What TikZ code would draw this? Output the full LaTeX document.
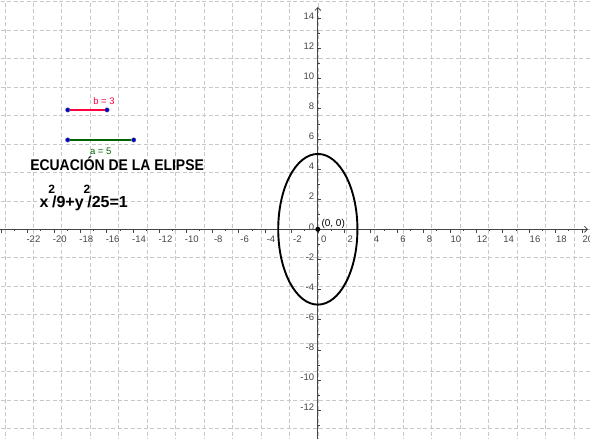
\documentclass[tikz,border=0pt]{standalone}
\usepackage{fontspec}
\setmainfont{Liberation Sans}
\newfontfamily\titlefont[FakeStretch=0.9]{Liberation Sans}
\usetikzlibrary{arrows.meta}
\definecolor{gridgray}{RGB}{200,200,200}
\definecolor{axisgray}{RGB}{70,70,70}
\definecolor{segred}{RGB}{255,0,64}
\definecolor{seggreen}{RGB}{0,100,0}
\definecolor{ptblue}{RGB}{0,0,210}
\newcommand\sqr{\raisebox{13.6pt}{\fontsize{12}{12}\selectfont 2}\kern-3pt}

\begin{document}
\begin{tikzpicture}[x=13.2pt, y=15.07pt,
  gridline/.style={gridgray, line width=0.6pt, dash pattern=on 4pt off 2.5pt},
  axis/.style={axisgray, line width=0.8pt, -{Straight Barb[length=3pt, width=6pt]}},
  tick/.style={axisgray, line width=0.6pt},
  num/.style={font=\fontsize{9.5}{9.5}\selectfont, text=axisgray, inner sep=0pt},
  seg/.style={line width=1.6pt},
  dot/.style={circle, fill=ptblue, draw=black!60, line width=0.3pt,
    inner sep=0pt, minimum size=4.5pt},
  eq/.style={font=\bfseries\fontsize{16}{16}\selectfont, inner sep=0pt}]
\useasboundingbox (-24.08,-13.915) rectangle (20.62,15.216);
\clip (-24.08,-13.915) rectangle (20.62,15.216);
\fill[white] (-24.08,-13.915) rectangle (20.62,15.216);
% grid and axes
\draw[gridline] (-25,-15) grid (21,16);
\draw[axis] (-24.08,0) -- (20.47,0);
\draw[axis] (0,-13.915) -- (0,14.75);
\foreach \i in {-24,-22,...,20} \draw[tick] (\i,0) -- ++(0,-3.5pt);
\foreach \i in {-23,-21,...,19} \draw[tick] (\i,0) -- ++(0,-2pt);
\foreach \j in {-14,-12,...,14} \draw[tick] (0,\j) -- ++(3.5pt,0);
\foreach \j in {-13,-11,...,13} \draw[tick] (0,\j) -- ++(2pt,0);
\foreach \i in {-22,-20,...,20}
  \node[num, anchor=base, xshift=6pt, yshift=-13.7pt] (xl\i) at (\i,0) {\i};
\foreach \j in {-12,-10,...,14}
  \node[num, anchor=base east, xshift=-3.5pt, yshift=-0.8pt] (yl\j) at (0,\j) {\j};
% ellipse
\draw[line width=1.9pt] (0,0) ellipse [x radius=3, y radius=5];
\node[circle, fill=black, inner sep=0pt, minimum size=5pt] (o) at (0,0) {};
\node[anchor=base west, inner sep=0pt, font=\fontsize{10}{10}\selectfont,
  xshift=3.5pt, yshift=3pt] (olab) at (o.center) {(0, 0)};
% segments b and a
\node[dot] (b1) at (-18.95,7.92) {};
\node[dot] (b2) at (-15.97,7.92) {};
\draw[seg, segred] (b1) -- (b2);
\node[anchor=base, inner sep=0pt, text=segred, font=\fontsize{9.5}{9.5}\selectfont]
  (blab) at (-16.2,8.25) {b = 3};
\node[dot] (a1) at (-18.95,5.93) {};
\node[dot] (a2) at (-13.95,5.93) {};
\draw[seg, seggreen] (a1) -- (a2);
\node[anchor=base, inner sep=0pt, text=seggreen, font=\fontsize{9.5}{9.5}\selectfont]
  (alab) at (-16.45,4.98) {a = 5};
% texts
\node[anchor=base west, inner sep=0pt,
  font=\titlefont\bfseries\fontsize{15.5}{16}\selectfont]
  (title) at (-21.8,3.87) {ECUACIÓN DE LA ELIPSE};
\node[eq, anchor=base west] (eqn) at (-21.1,1.46) {x\sqr/9+y\sqr/25=1};
\end{tikzpicture}
\end{document}
